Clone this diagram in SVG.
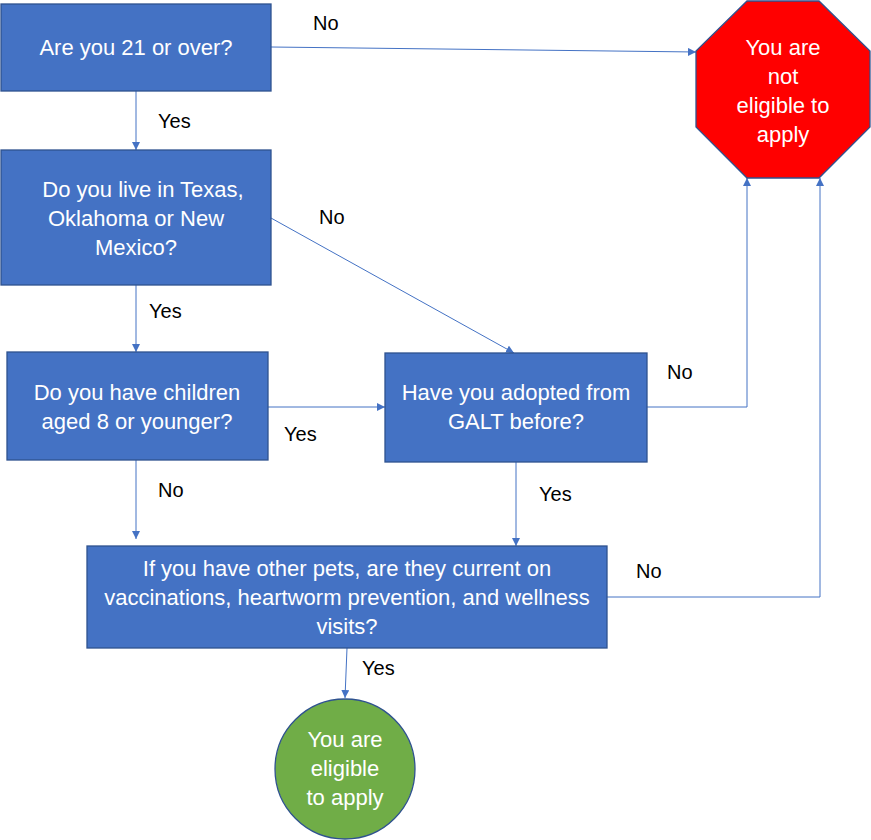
<svg xmlns="http://www.w3.org/2000/svg" width="871" height="840" viewBox="0 0 871 840">
<defs>
<marker id="arr" viewBox="0 0 10 10" refX="10" refY="5" markerWidth="8" markerHeight="8" markerUnits="userSpaceOnUse" orient="auto">
<path d="M0,0 L10,5 L0,10 Z" fill="#4472C4"/>
</marker>
<style>
.box{fill:#4472C4;stroke:#2F528F;stroke-width:1.3}
.wt{font-family:"Liberation Sans",Arial,sans-serif;font-size:22px;fill:#FFFFFF;text-anchor:middle}
.lb{font-family:"Liberation Sans",Arial,sans-serif;font-size:20px;fill:#000000}
.cn{fill:none;stroke:#4472C4;stroke-width:1;marker-end:url(#arr)}
</style>
</defs>
<rect width="871" height="840" fill="#FFFFFF"/>
<g id="connectors">
<path class="cn" d="M271,47 L696,52"/>
<path class="cn" d="M136,91 L136,150"/>
<path class="cn" d="M136,285 L136,352"/>
<path class="cn" d="M271,218 L514,353"/>
<path class="cn" d="M268,407 L385,407"/>
<path class="cn" d="M136,460 L136,539"/>
<path class="cn" d="M516,462 L516,546"/>
<path class="cn" d="M647,407 L747,407 L747,178"/>
<path class="cn" d="M607,597 L820,597 L820,178"/>
<path class="cn" d="M347,648 L345,698"/>
<text class="lb" x="313" y="30">No</text>
<text class="lb" x="158" y="128">Yes</text>
<text class="lb" x="149" y="318">Yes</text>
<text class="lb" x="319" y="224">No</text>
<text class="lb" x="284" y="441">Yes</text>
<text class="lb" x="158" y="497">No</text>
<text class="lb" x="539" y="501">Yes</text>
<text class="lb" x="667" y="379">No</text>
<text class="lb" x="636" y="578">No</text>
<text class="lb" x="362" y="675">Yes</text>
</g>
<g id="q1">
<rect class="box" x="1" y="4" width="270" height="87"/>
<text class="wt" x="136" y="55">Are you 21 or over?</text>
</g>
<g id="q2">
<rect class="box" x="1" y="150" width="270" height="135"/>
<text class="wt" x="143" y="197">Do you live in Texas,</text>
<text class="wt" x="136" y="226">Oklahoma or New</text>
<text class="wt" x="136" y="255">Mexico?</text>
</g>
<g id="q3">
<rect class="box" x="7" y="352" width="261" height="108"/>
<text class="wt" x="137" y="400">Do you have children</text>
<text class="wt" x="137" y="429">aged 8 or younger?</text>
</g>
<g id="q4">
<rect class="box" x="385" y="353" width="262" height="109"/>
<text class="wt" x="516" y="400">Have you adopted from</text>
<text class="wt" x="516" y="429">GALT before?</text>
</g>
<g id="q5">
<rect class="box" x="87" y="546" width="520" height="102"/>
<text class="wt" x="347" y="576">If you have other pets, are they current on</text>
<text class="wt" x="347" y="605">vaccinations, heartworm prevention, and wellness</text>
<text class="wt" x="347" y="634">visits?</text>
</g>
<g id="not-eligible">
<polygon points="747,1 819,1 870,51 870,127 819,178 747,178 696,127 696,51" fill="#FF0000" stroke="#2F528F" stroke-width="1.3"/>
<text class="wt" x="783" y="55">You are</text>
<text class="wt" x="783" y="84">not</text>
<text class="wt" x="783" y="113">eligible to</text>
<text class="wt" x="783" y="142">apply</text>
</g>
<g id="eligible">
<circle cx="345" cy="769" r="70" fill="#70AD47" stroke="#2F528F" stroke-width="1.3"/>
<text class="wt" x="345" y="747">You are</text>
<text class="wt" x="345" y="776">eligible</text>
<text class="wt" x="345" y="805">to apply</text>
</g>
</svg>
